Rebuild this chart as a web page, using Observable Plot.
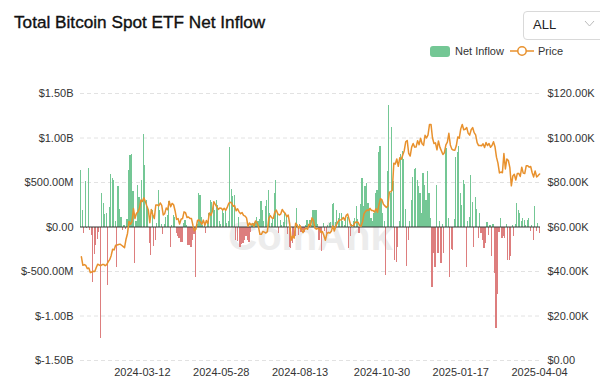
<!DOCTYPE html>
<html>
<head>
<meta charset="utf-8">
<script src="https://cdn.jsdelivr.net/npm/d3@7"></script>
<script src="https://cdn.jsdelivr.net/npm/@observablehq/plot@0.6"></script>
<style>
  html, body { margin: 0; padding: 0; background: #fff; }
  #wrap { position: relative; width: 600px; height: 384px; overflow: hidden; font-family: "Liberation Sans", Arial, Helvetica, sans-serif; color: #333; }
  #chart { position: absolute; left: 0; top: 0; }
  .abs { position: absolute; white-space: nowrap; }
  #title { left: 14px; top: 12px; line-height: 20px; font-size: 17.2px; font-weight: normal; color: #111; -webkit-text-stroke: 0.35px #111; }
  #dd { left: 523px; top: 11px; width: 100px; height: 29px; box-sizing: border-box; border: 1px solid #d9d9d9; border-radius: 4px; background: #fff; }
  #ddtext { left: 533px; top: 16px; line-height: 18px; font-size: 13px; color: #222; }
  .leg { font-size: 11px; line-height: 14px; top: 44px; color: #333; }
</style>
</head>
<body>
<div id="wrap">
  <div id="chart"></div>
  <div id="title" class="abs">Total Bitcoin Spot ETF Net Inflow</div>
  <div id="dd" class="abs"></div>
  <div id="ddtext" class="abs">ALL</div>
  <svg class="abs" style="left:584px;top:19px" width="12" height="10"><polyline points="1,2 5.5,7 10,2" fill="none" stroke="#bbb" stroke-width="1"/></svg>
  <div class="abs" style="left:430px;top:46px;width:20px;height:11px;border-radius:3px;background:#74c795"></div>
  <div class="abs leg" style="left:455px">Net Inflow</div>
  <svg class="abs" style="left:509px;top:45px" width="26" height="12"><line x1="1" y1="6" x2="25" y2="6" stroke="#e8912d" stroke-width="1.5"/><circle cx="13" cy="6" r="4.2" fill="#fff" stroke="#e8912d" stroke-width="1.5"/></svg>
  <div class="abs leg" style="left:538px">Price</div>
</div>
<script>
// ---- categories (US trading days) ----
const firstDay = "2024-01-11";
const lastDay = "2025-04-04";
const holidays = ["2024-01-15","2024-02-19","2024-03-29","2024-05-27","2024-06-19","2024-07-04","2024-09-02","2024-11-28","2024-12-25","2025-01-01","2025-01-09","2025-01-20","2025-02-17"];

// ---- net inflow, $M per trading day ----
const inflow = [
  630, 190, -70, 510, -20, 660, -40, -90, -625, -305,
  -210, -135, -60, -1255, 375, 260, 140, 150, -660, 215,
  590, 545, 520, 60, -455, 450, 200, 110, -40, 20,
  -30, 80, 630, 800, 820, 400, -415, 60, 465, 330,
  250, 520, 1040, 690, 300, 220, -190, -325, 190, -220,
  -150, 40, 415, 190, 30, -80, 30, 112, 131, 290,
  -225, 20, 131, 105, -75, -110, -130, -169, -169, 40,
  75, 15, -206, -206, -232, -150, -80, -562, 30, 380,
  356, 112, 20, 37, -78, 60, 150, 300, 270, 255,
  187, 300, 243, 60, 30, 187, 150, 187, 40, 60,
  890, 420, 340, 356, -150, -160, 112, -225, -200, -180,
  -150, -112, -150, -170, -60, 20, 40, 50, 112, 60,
  80, 290, 187, 60, 225, 300, 412, 150, 40, 90,
  375, 525, 150, -75, 75, 20, 56, 150, 112, -80,
  -226, -244, -180, -112, -112, 206, -100, 30, -60, -40,
  -60, 20, 75, 30, 75, 20, 190, 187, 187, 30,
  -150, -60, -280, 40, -50, -75, 20, 37, 56, 250,
  262, 50, 187, 100, 150, 150, 60, 20, 120, 112,
  -240, -112, 30, 60, 100, 225, 80, -75, 250, 540,
  225, 460, 490, 262, 206, 100, 60, 150, 375, 406,
  835, 900, 300, 150, 60, -540, 620, 1365, 375, 1116,
  506, -375, -404, -225, 60, 817, 850, 764, 200, -440,
  -150, 60, 300, 554, 650, 656, 517, 450, 375, 150,
  600, 470, 300, 629, 375, 100, -682, -300, -450, 469,
  -303, 60, -412, 30, -300, 910, 880, 100, -573, -250,
  -262, 80, 779, 835, 900, 375, 244, 525, 475, -457,
  60, 112, 581, 280, -225, 337, 200, -131, 150, -75,
  -150, -244, -187, 56, -94, 20, -335, 30, -525, -1135,
  -753, -60, 94, -131, -112, -131, 30, -375, -375, -337,
  20, -112, 30, 262, 187, 150, 60, 94, 75, 20,
  75, 94, -56, 20, -150, 225, -56, 40, -70
];

// ---- BTC price, $K per trading day ----
const price = [
  46.6, 42.8, 43.1, 42.7, 41.3, 41.6, 39.5, 39.8, 40.1, 40.0, 41.8, 43.3, 42.9, 42.6,
  43.1, 43.2, 42.6, 43.1, 44.3, 45.3, 47.1, 50.0, 49.7, 51.8, 51.9, 52.1, 52.3, 51.8, 51.3, 50.7, 54.5, 57.1, 62.5, 61.2,
  62.4, 68.3, 63.8, 66.1, 66.9, 68.3, 72.1, 71.5, 73.1, 71.4, 69.4, 67.6, 61.9, 67.9, 65.5, 63.8, 69.9, 69.9, 69.5, 70.8,
  69.7, 65.4, 66.0, 68.5, 67.8, 71.6, 69.1, 70.6, 70.0, 67.2, 63.4, 63.8, 61.3, 63.5, 63.8, 66.8, 66.4, 64.3, 64.5, 63.8, 63.8, 60.6,
  58.3, 59.1, 62.9, 63.2, 62.3, 61.2, 63.1, 60.8, 62.9, 61.6, 66.3, 65.2, 67.0, 71.4, 70.1, 69.1, 67.9, 68.5, 68.4, 67.6, 68.4, 67.5,
  68.8, 70.6, 71.1, 70.8, 69.3, 69.6, 67.3, 68.2, 66.8, 66.0, 66.5, 65.2, 64.9, 64.1, 60.3, 61.8, 60.9, 61.6, 60.3,
  62.7, 62.0, 60.2, 56.7, 56.7, 58.0, 57.7, 57.3, 57.9, 64.0, 65.1, 64.1, 63.9, 66.7, 67.6, 65.9, 65.4, 65.8, 67.9, 66.8, 66.2, 64.6,
  65.4, 61.5, 54.0, 56.0, 55.0, 61.7, 60.9, 59.3, 60.6, 58.7, 57.5, 58.9, 59.5, 59.0, 61.2, 60.4, 64.1, 62.9, 59.5, 59.0, 59.4, 59.1,
  57.5, 58.0, 56.2, 54.0, 57.0, 57.6, 57.3, 58.1, 60.5, 58.2, 60.3, 61.8, 62.9, 63.2, 63.3, 64.3, 63.1, 65.2, 65.8, 63.3,
  60.8, 60.6, 60.7, 62.1, 62.2, 62.1, 60.6, 60.3, 62.4, 66.0, 67.0, 67.6, 67.4, 68.4, 67.4, 67.4, 66.7, 68.2, 66.6, 69.9, 72.7, 72.3, 70.2,
  69.5, 68.8, 69.5, 75.6, 75.9, 76.5, 88.7, 88.3, 90.6, 87.3, 91.1, 90.5, 92.3, 94.3, 98.3, 98.9, 93.1, 91.9, 95.9, 97.5,
  95.9, 96.0, 98.8, 97.0, 99.9, 97.4, 96.7, 101.2, 100.0, 101.4, 106.1, 106.1, 100.0, 97.5, 97.8, 94.7, 98.7, 95.8, 94.2, 92.6, 93.4,
  96.9, 98.1, 102.1, 96.9, 95.0, 94.6, 94.5, 96.5, 100.5, 99.9, 104.1, 106.1, 103.7, 103.9, 104.7, 102.1, 101.3, 103.7, 104.7, 102.4,
  101.4, 97.9, 96.6, 96.6, 96.5, 97.4, 95.7, 98.0, 96.6, 97.5, 95.8, 96.6, 98.3, 96.1, 91.4, 88.7, 84.3, 84.7, 84.4,
  93.0, 86.1, 90.6, 89.9, 86.7, 78.5, 82.9, 83.7, 81.1, 84.0, 84.1, 82.7, 86.9, 84.2, 84.0, 87.5, 87.5, 86.9, 87.2, 84.4, 82.5,
  85.2, 82.5, 83.1, 83.8
];

// ---- tick labels ----
const xTicks = ["2024-03-12", "2024-05-28", "2024-08-13", "2024-10-30", "2025-01-17", "2025-04-04"];
const yTicks = [-1500, -1000, -500, 0, 500, 1000, 1500];   // $M
const priceTicks = [0, 20, 40, 60, 80, 100, 120];           // $K (right axis)

const green = "#74c795", red = "#dd7e7e", orange = "#e8912d";

const dates = [];
for (let d = new Date(firstDay + "T00:00:00Z"); d <= new Date(lastDay + "T00:00:00Z"); d.setUTCDate(d.getUTCDate() + 1)) {
  const s = d.toISOString().slice(0, 10), w = d.getUTCDay();
  if (w !== 0 && w !== 6 && !holidays.includes(s)) dates.push(s);
}
const n = Math.min(dates.length, inflow.length, price.length);
const rows = dates.slice(0, n).map((date, i) => ({date, inflow: inflow[i], price: price[i]}));

// right axis maps $K onto the left ($M) coordinate: 60K <-> 0, 20K <-> 500M
const priceToY = p => (p - 60) * 25;
const fmtLeft = v => v === 0 ? "$0.00" : Math.abs(v) >= 1000 ? "$" + (v / 1000).toFixed(2) + "B" : "$" + v.toFixed(2) + "M";

const chart = Plot.plot({
  width: 600, height: 384,
  marginTop: 93, marginBottom: 24, marginLeft: 80, marginRight: 60,
  style: {fontFamily: "'Liberation Sans', Arial, sans-serif", fontSize: "11px", color: "#333", background: "transparent"},
  x: {type: "band", domain: dates.slice(0, n), padding: 0.2, axis: null, label: null},
  y: {domain: [-1500, 1500], axis: null, label: null},
  marks: [
    Plot.ruleY(yTicks.filter(v => v !== 0), {stroke: "#e2e2e2", strokeDasharray: "4,3"}),
    Plot.text(["CoinAnk"], {frameAnchor: "middle", dy: 10, fontSize: 40, fontWeight: "bold", fill: "#ececec"}),
    Plot.barY(rows.filter(d => d.inflow >= 0), {x: "date", y: "inflow", fill: green, shapeRendering: "crispEdges"}),
    Plot.barY(rows.filter(d => d.inflow < 0), {x: "date", y: "inflow", fill: red, shapeRendering: "crispEdges"}),
    Plot.ruleY([0], {stroke: "#333", strokeWidth: 1}),
    Plot.line(rows, {x: "date", y: d => priceToY(d.price), stroke: orange, strokeWidth: 1.5}),
    Plot.axisY(yTicks, {anchor: "left", label: null, tickSize: 0, tickPadding: 7, tickFormat: fmtLeft, fill: "#333"}),
    Plot.axisY(priceTicks.map(priceToY), {anchor: "right", label: null, tickSize: 0, tickPadding: 7, fill: "#333",
      tickFormat: v => { const p = 60 + v / 25; return p === 0 ? "$0.00" : "$" + p.toFixed(2) + "K"; }}),
    Plot.axisX(xTicks, {anchor: "bottom", label: null, tickSize: 0, tickPadding: 8, fill: "#333"})
  ]
});
document.getElementById("chart").appendChild(chart);
</script>
</body>
</html>
